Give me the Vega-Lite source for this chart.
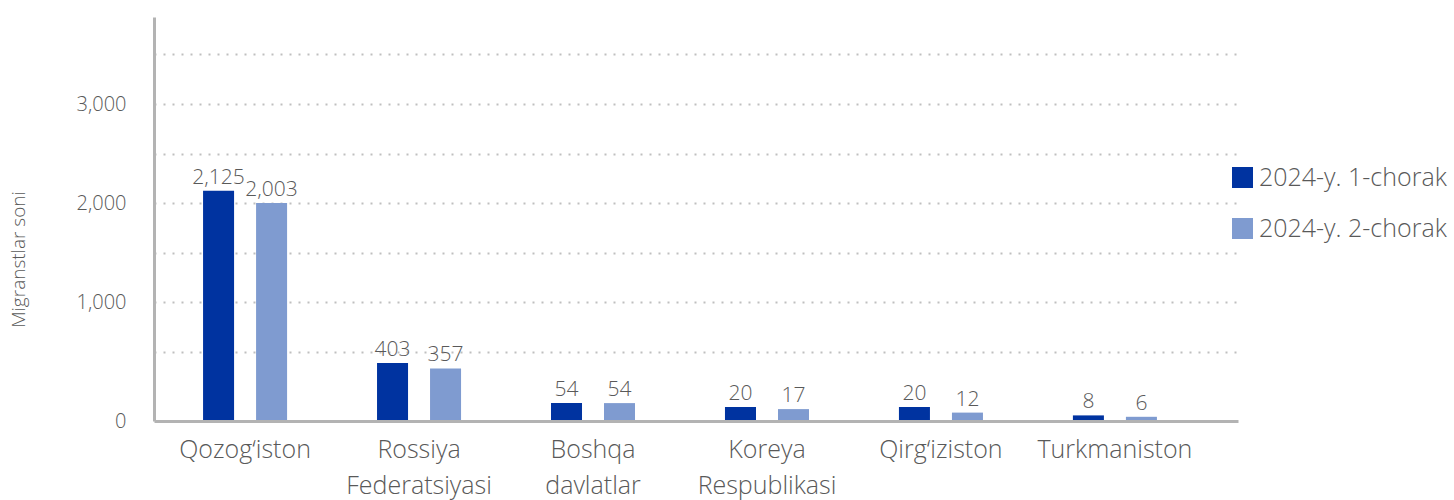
{
  "$schema": "https://vega.github.io/schema/vega-lite/v6.json",
  "width": 1084,
  "height": 404,
  "autosize": {"type": "none"},
  "padding": {"left": 154, "top": 17, "right": 216, "bottom": 79},
  "background": "white",
  "config": {"view": {"stroke": null}, "font": "Open Sans"},
  "data": {"values": [
    {"country": "Qozog‘iston", "period": "2024-y. 1-chorak", "value": 2125},
    {"country": "Qozog‘iston", "period": "2024-y. 2-chorak", "value": 2003},
    {"country": "Rossiya Federatsiyasi", "period": "2024-y. 1-chorak", "value": 403},
    {"country": "Rossiya Federatsiyasi", "period": "2024-y. 2-chorak", "value": 357},
    {"country": "Boshqa davlatlar", "period": "2024-y. 1-chorak", "value": 54},
    {"country": "Boshqa davlatlar", "period": "2024-y. 2-chorak", "value": 54},
    {"country": "Koreya Respublikasi", "period": "2024-y. 1-chorak", "value": 20},
    {"country": "Koreya Respublikasi", "period": "2024-y. 2-chorak", "value": 17},
    {"country": "Qirg‘iziston", "period": "2024-y. 1-chorak", "value": 20},
    {"country": "Qirg‘iziston", "period": "2024-y. 2-chorak", "value": 12},
    {"country": "Turkmaniston", "period": "2024-y. 1-chorak", "value": 8},
    {"country": "Turkmaniston", "period": "2024-y. 2-chorak", "value": 6}
  ]},
  "encoding": {
    "x": {
      "field": "country",
      "type": "nominal",
      "sort": ["Qozog‘iston", "Rossiya Federatsiyasi", "Boshqa davlatlar", "Koreya Respublikasi", "Qirg‘iziston", "Turkmaniston"],
      "scale": {"paddingInner": 0.517, "paddingOuter": 0.374, "align": 0.377},
      "axis": {
        "title": null,
        "labelAngle": 0,
        "labelFontSize": 25,
        "labelFontWeight": 300,
        "labelColor": "#595959",
        "labelPadding": 16,
        "labelExpr": "split(datum.label, ' ')",
        "labelLineHeight": 36,
        "ticks": false,
        "domainColor": "#b3b3b3",
        "domainWidth": 3,
        "grid": false,
        "zindex": 1
      }
    },
    "xOffset": {
      "field": "period",
      "type": "nominal",
      "scale": {"paddingInner": 0.415, "paddingOuter": 0}
    },
    "y": {
      "field": "value",
      "type": "quantitative",
      "scale": {"domain": [0, 20, 500, 3878], "range": [404, 390, 335, 0], "nice": false, "zero": false},
      "axis": {
        "title": "Migranstlar soni",
        "values": [0, 500, 1000, 1500, 2000, 2500, 3000, 3500],
        "labelExpr": "datum.value % 1000 === 0 ? format(datum.value, ',') : ''",
        "domainColor": "#b3b3b3",
        "domainWidth": 3,
        "ticks": false,
        "gridColor": "#bfbfbf",
        "gridDash": [2, 7],
        "gridWidth": 2,
        "gridOpacity": {"condition": {"test": "datum.value === 0", "value": 0}, "value": 1},
        "labelFontSize": 20,
        "labelFontWeight": 300,
        "labelColor": "#595959",
        "labelPadding": 28,
        "titleFontSize": 19,
        "titleFontWeight": 300,
        "titleColor": "#595959",
        "titleX": -136,
        "titleY": 242,
        "titleBaseline": "middle",
        "titleAngle": -90
      }
    }
  },
  "layer": [
    {
      "mark": {"type": "bar"},
      "encoding": {
        "color": {
          "field": "period",
          "type": "nominal",
          "scale": {"domain": ["2024-y. 1-chorak", "2024-y. 2-chorak"], "range": ["#0033a0", "#7f9bd0"]},
          "legend": {
            "title": null,
            "orient": "none",
            "legendX": 1076,
            "legendY": 148,
            "padding": 0,
            "symbolType": "square",
            "symbolSize": 441,
            "symbolStrokeWidth": 0,
            "symbolOpacity": 1,
            "labelFontSize": 25,
            "labelFontWeight": 300,
            "labelColor": "#595959",
            "labelOffset": 4,
            "labelLimit": 400,
            "rowPadding": 25
          }
        }
      }
    },
    {
      "mark": {"type": "text", "baseline": "alphabetic", "dy": -7, "fontSize": 21, "fontWeight": 300, "color": "#595959"},
      "encoding": {"text": {"field": "value", "type": "quantitative", "format": ","}}
    }
  ]
}
